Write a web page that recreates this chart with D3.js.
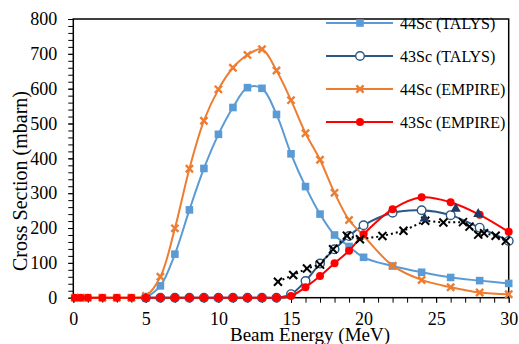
<!DOCTYPE html>
<html>
<head>
<meta charset="utf-8">
<script src="https://cdn.jsdelivr.net/npm/d3@7"></script>
<style>
  body { margin: 0; background: #fff; }
  svg text { font-family: "Liberation Serif", "Times New Roman", Times, serif !important; fill: #000; }
</style>
</head>
<body>
<div id="vis"></div>
<script>
const FRAME_WIDTH = 519;
const FRAME_HEIGHT = 344;
const MARGINS = {left: 73.3, right: 10.3, top: 19, bottom: 46.3};

// data
const energyEmpire = [0.1, 0.5, 1, 2, 3, 4, 5, 6, 7, 8, 9, 10, 11, 12, 13, 14, 15, 16, 17, 18, 19, 20, 22, 24, 26, 28, 30];
const sc44Empire = [0, 0, 0, 0, 0, 0, 5, 60, 199, 370, 508, 598, 660, 697, 713, 652, 567, 472, 396, 301, 223, 178, 92, 51, 30, 15, 10];
const sc43Empire = [0, 0, 0, 0, 0, 0, 0, 0, 0, 0, 0, 0, 0, 0, 0, 0, 5, 30, 62, 99, 135, 182, 254, 288, 274, 238, 189];

const energyTalys = [5, 6, 7, 8, 9, 10, 11, 12, 13, 14, 15, 16, 17, 18, 19, 20, 22, 24, 26, 28, 30];
const sc44Talys = [0, 34, 125, 252, 371, 469, 546, 603, 601, 526, 413, 319, 240, 180, 147, 116, 91, 73, 58, 49, 41];
const sc43Talys = [0, 0, 0, 0, 0, 0, 0, 0, 0, 0, 10, 48, 98, 139, 177, 208, 244, 251, 237, 201, 163];

const expEnergy = [14.1, 15.15, 16.1, 17.0, 17.9, 18.85, 19.75, 21.3, 22.75, 24.25, 25.5, 26.85, 27.3, 27.9, 28.3, 29.1, 29.8];
const expValues = [46, 65, 84, 95, 139, 178, 168, 177, 192, 221, 216, 217, 204, 181, 185, 178, 163];

const triEnergy = [24.2, 26.35, 27.9];
const triValues = [229, 257, 242];

const xTicks = [0, 5, 10, 15, 20, 25, 30];
const yTicks = [0, 100, 200, 300, 400, 500, 600, 700, 800];

const seriesNames = ['44Sc (TALYS)', '43Sc (TALYS)', '44Sc (EMPIRE)', '43Sc (EMPIRE)'];

const VIS_WIDTH = FRAME_WIDTH - MARGINS.left - MARGINS.right;
const VIS_HEIGHT = FRAME_HEIGHT - MARGINS.top - MARGINS.bottom;

const FRAME = d3.select('#vis')
  .append('svg')
    .attr('width', FRAME_WIDTH)
    .attr('height', FRAME_HEIGHT);

const X_SCALE = d3.scaleLinear().domain([0, 30]).range([MARGINS.left, MARGINS.left + VIS_WIDTH]);
const Y_SCALE = d3.scaleLinear().domain([0, 800]).range([MARGINS.top + VIS_HEIGHT, MARGINS.top]);

// minor ticks
FRAME.append('g')
  .attr('transform', 'translate(0,' + (MARGINS.top + VIS_HEIGHT) + ')')
  .call(d3.axisBottom(X_SCALE).ticks(30).tickSize(5).tickFormat(''))
  .call(g => g.select('.domain').remove())
  .selectAll('line').attr('stroke', '#000').attr('stroke-width', 1);

FRAME.append('g')
  .attr('transform', 'translate(' + MARGINS.left + ',0)')
  .call(d3.axisLeft(Y_SCALE).ticks(40).tickSize(5).tickFormat(''))
  .call(g => g.select('.domain').remove())
  .selectAll('line').attr('stroke', '#000').attr('stroke-width', 1);

// tick labels
const xAxis = FRAME.append('g')
  .attr('transform', 'translate(0,' + (MARGINS.top + VIS_HEIGHT) + ')')
  .call(d3.axisBottom(X_SCALE).tickValues(xTicks).tickSize(5).tickPadding(10));
xAxis.select('.domain').remove();
xAxis.selectAll('text').attr('font-size', '18px');

const yAxis = FRAME.append('g')
  .attr('transform', 'translate(' + MARGINS.left + ',0)')
  .call(d3.axisLeft(Y_SCALE).tickValues(yTicks).tickSize(5).tickPadding(11));
yAxis.select('.domain').remove();
yAxis.selectAll('text').attr('font-size', '18px');

// plot frame
FRAME.append('rect')
  .attr('x', MARGINS.left).attr('y', MARGINS.top)
  .attr('width', VIS_WIDTH).attr('height', VIS_HEIGHT)
  .attr('fill', 'none').attr('stroke', '#000').attr('stroke-width', 1.5);

// axis titles
FRAME.append('text')
  .attr('x', 310).attr('y', 341)
  .attr('text-anchor', 'middle')
  .attr('font-size', '19px')
  .text('Beam Energy (MeV)');

FRAME.append('text')
  .attr('transform', 'translate(27,' + 181 + ') rotate(-90)')
  .attr('text-anchor', 'middle')
  .attr('font-size', '20px')
  .text('Cross Section (mbarn)');

const smooth = d3.line()
  .x(d => X_SCALE(d[0]))
  .y(d => Y_SCALE(d[1]))
  .curve(d3.curveCatmullRom.alpha(0.5));

const straight = d3.line()
  .x(d => X_SCALE(d[0]))
  .y(d => Y_SCALE(d[1]));

const zip = (xs, ys) => xs.map((x, i) => [x, ys[i]]);

const SERIES = [
  {name: seriesNames[0], pts: zip(energyTalys, sc44Talys), color: '#5B9BD5', marker: 'square'},
  {name: seriesNames[1], pts: zip(energyTalys, sc43Talys), color: '#2B5885', marker: 'circle'},
  {name: seriesNames[2], pts: zip(energyEmpire, sc44Empire), color: '#ED7D31', marker: 'cross'},
  {name: seriesNames[3], pts: zip(energyEmpire, sc43Empire), color: '#FF0000', marker: 'dot'}
];

function drawMarker(g, type, color, x, y) {
  if (type === 'square') {
    g.append('rect').attr('x', x - 3.8).attr('y', y - 3.8).attr('width', 7.6).attr('height', 7.6)
      .attr('fill', color);
  } else if (type === 'circle') {
    g.append('circle').attr('cx', x).attr('cy', y).attr('r', 4.3)
      .attr('fill', '#fff').attr('stroke', color).attr('stroke-width', 1.4);
  } else if (type === 'cross') {
    g.append('path').attr('d', `M${x - 3.6},${y - 3.6}L${x + 3.6},${y + 3.6}M${x - 3.6},${y + 3.6}L${x + 3.6},${y - 3.6}`)
      .attr('stroke', color).attr('stroke-width', 2.4).attr('fill', 'none');
  } else if (type === 'dot') {
    g.append('circle').attr('cx', x).attr('cy', y).attr('r', 4)
      .attr('fill', color);
  } else if (type === 'xblack') {
    g.append('path').attr('d', `M${x - 4},${y - 4}L${x + 4},${y + 4}M${x - 4},${y + 4}L${x + 4},${y - 4}`)
      .attr('stroke', color).attr('stroke-width', 2).attr('fill', 'none');
  } else if (type === 'tri') {
    g.append('path').attr('d', `M${x},${y - 5.5}L${x + 5},${y + 3.5}L${x - 5},${y + 3.5}Z`)
      .attr('fill', color);
  }
}

SERIES.forEach(s => {
  const g = FRAME.append('g');
  g.append('path').datum(s.pts)
    .attr('d', smooth)
    .attr('fill', 'none')
    .attr('stroke', s.color)
    .attr('stroke-width', 2);
  s.pts.forEach(p => drawMarker(g, s.marker, s.color, X_SCALE(p[0]), Y_SCALE(p[1])));
});

// experimental points
const expG = FRAME.append('g');
expG.append('path').datum(zip(expEnergy, expValues))
  .attr('d', straight)
  .attr('fill', 'none')
  .attr('stroke', '#000')
  .attr('stroke-width', 2)
  .attr('stroke-dasharray', '2,3');
expEnergy.forEach((e, i) => drawMarker(expG, 'xblack', '#000', X_SCALE(e), Y_SCALE(expValues[i])));

const triG = FRAME.append('g');
triEnergy.forEach((e, i) => drawMarker(triG, 'tri', '#203864', X_SCALE(e), Y_SCALE(triValues[i])));

// legend
const legend = FRAME.append('g');
SERIES.forEach((s, i) => {
  const y = 23 + i * 33;
  legend.append('line')
    .attr('x1', 326).attr('x2', 393).attr('y1', y).attr('y2', y)
    .attr('stroke', s.color).attr('stroke-width', 2);
  drawMarker(legend, s.marker, s.color, 360, y);
  legend.append('text')
    .attr('x', 400).attr('y', y + 5.5)
    .attr('font-size', '16px')
    .text(s.name);
});
</script>
</body>
</html>
